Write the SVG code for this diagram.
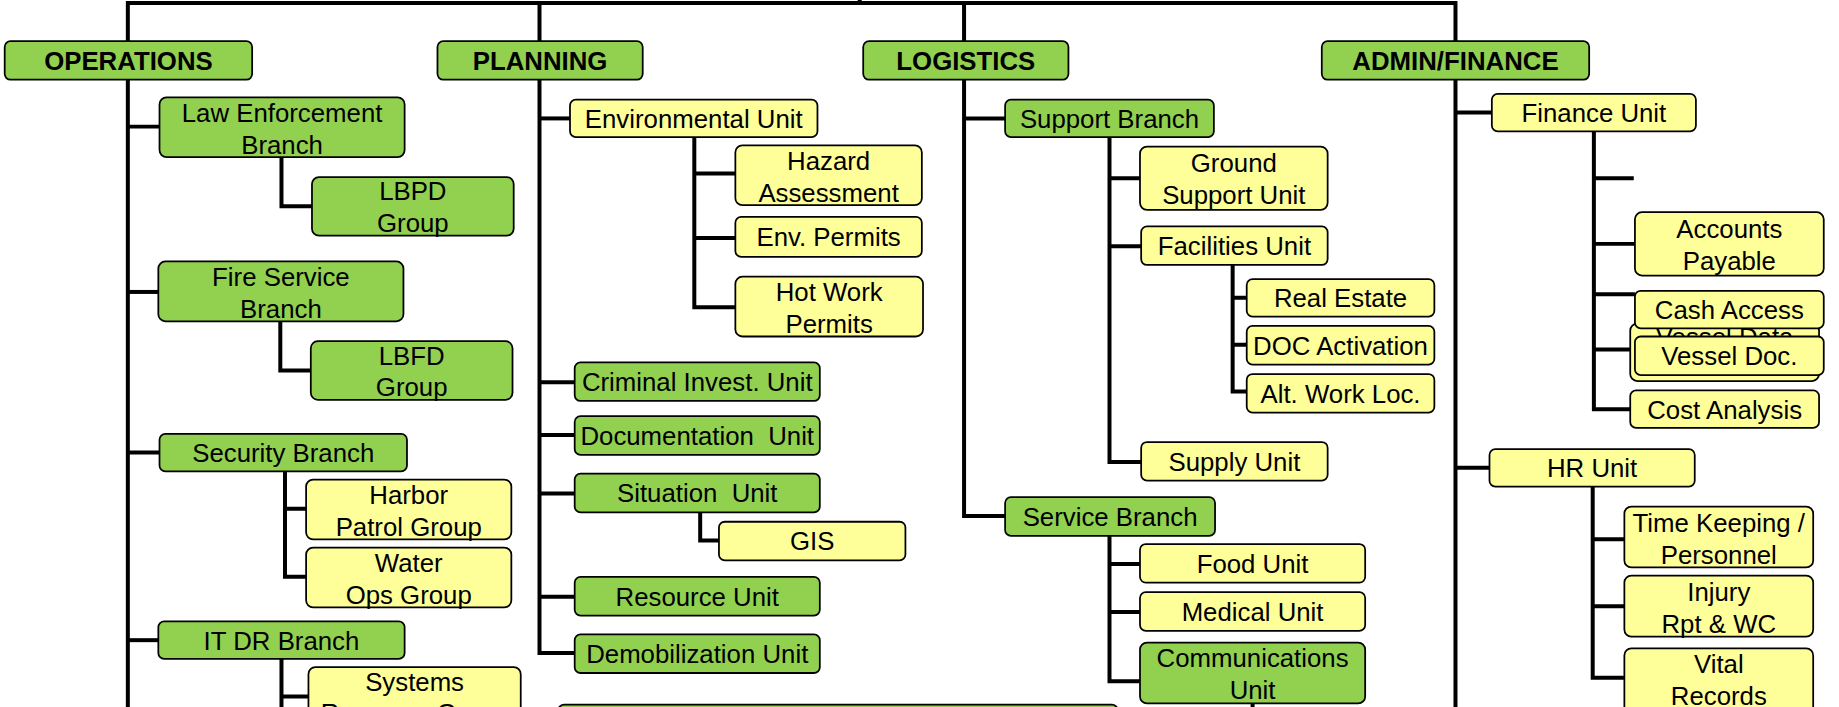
<svg xmlns="http://www.w3.org/2000/svg" width="1839" height="707" viewBox="0 0 1839 707">
  <style>
    .g { fill: #92D050; stroke: #000; stroke-width: 1.5; }
    .y { fill: #FFFF99; stroke: #000; stroke-width: 1.5; }
    .t { font-family: "Liberation Sans", Arial, sans-serif; font-size: 22px; text-anchor: middle; fill: #000; }
    .h { font-weight: bold; }
    .c { fill: none; stroke: #000; stroke-width: 3.4; stroke-linejoin: miter; stroke-linecap: butt; }
  </style>
  <rect x="0" y="0" width="1839" height="707" fill="#fff"/>
  <!-- layout drawn on a 1568 x 603 grid, scaled up to the page -->
  <g transform="scale(1.17283 1.17247)">
    <g id="connectors" class="c">
      <!-- top bar and section trunks -->
      <path d="M109,605 V2.5 H1241 V605"/>
      <path d="M733,0 V4"/>
      <path d="M460,2.5 V557 H490"/>
      <path d="M822,2.5 V440 H857"/>
      <!-- operations -->
      <path d="M109,108 H136"/>
      <path d="M240,134 V176 H266"/>
      <path d="M109,249 H135"/>
      <path d="M239,274 V316 H265"/>
      <path d="M109,386 H136"/>
      <path d="M243,402 V492 H261 M243,434 H261"/>
      <path d="M109,546 H135"/>
      <path d="M240,562 V605 M240,594 H263"/>
      <!-- planning -->
      <path d="M460,101 H486"/>
      <path d="M592,117 V262 H627 M592,148 H627 M592,203 H627"/>
      <path d="M460,326 H490 M460,371 H490 M460,421 H490 M460,509 H490"/>
      <path d="M597,437 V461 H613"/>
      <!-- logistics -->
      <path d="M822,101 H857"/>
      <path d="M946,117 V394 H973 M946,152 H972 M946,210 H973"/>
      <path d="M1051,226 V334 H1063 M1051,254 H1063 M1051,294 H1063"/>
      <path d="M946,457 V581 H972 M946,481 H972 M946,522 H972"/>
      <path d="M1068,600 V605"/>
      <!-- admin / finance -->
      <path d="M1241,96 H1272"/>
      <path d="M1359,112 V349 H1390 M1359,152 H1393 M1359,208 H1394 M1359,251 H1394 M1359,298 H1390"/>
      <path d="M1241,399 H1270"/>
      <path d="M1358,415 V578 H1385 M1358,460 H1385 M1358,517 H1385"/>
    </g>

    <!-- section headers -->
    <g id="operations"><rect class="g" x="4" y="35" width="211" height="33" rx="5"/><text class="t h" x="109.5" y="59.5">OPERATIONS</text></g>
    <g id="planning"><rect class="g" x="373" y="35" width="175" height="33" rx="5"/><text class="t h" x="460.5" y="59.5">PLANNING</text></g>
    <g id="logistics"><rect class="g" x="736" y="35" width="175" height="33" rx="5"/><text class="t h" x="823.5" y="59.5">LOGISTICS</text></g>
    <g id="admin-finance"><rect class="g" x="1127" y="35" width="228" height="33" rx="5"/><text class="t h" x="1241" y="59.5">ADMIN/FINANCE</text></g>

    <!-- operations section -->
    <g id="ops-law"><rect class="g" x="136" y="83" width="209" height="51" rx="6"/><text class="t" x="240.5" y="104">Law Enforcement</text><text class="t" x="240.5" y="131">Branch</text></g>
    <g id="ops-lbpd"><rect class="g" x="266" y="151" width="172" height="50" rx="6"/><text class="t" x="352" y="171">LBPD</text><text class="t" x="352" y="198">Group</text></g>
    <g id="ops-fire"><rect class="g" x="135" y="223" width="209" height="51" rx="6"/><text class="t" x="239.5" y="244">Fire Service</text><text class="t" x="239.5" y="271">Branch</text></g>
    <g id="ops-lbfd"><rect class="g" x="265" y="291" width="172" height="50" rx="6"/><text class="t" x="351" y="311">LBFD</text><text class="t" x="351" y="338">Group</text></g>
    <g id="ops-security"><rect class="g" x="136" y="370" width="211" height="32" rx="5"/><text class="t" x="241.5" y="394">Security Branch</text></g>
    <g id="ops-harbor"><rect class="y" x="261" y="409" width="175" height="51" rx="6"/><text class="t" x="348.5" y="430">Harbor</text><text class="t" x="348.5" y="457">Patrol Group</text></g>
    <g id="ops-water"><rect class="y" x="261" y="467" width="175" height="51" rx="6"/><text class="t" x="348.5" y="488">Water</text><text class="t" x="348.5" y="515">Ops Group</text></g>
    <g id="ops-itdr"><rect class="g" x="135" y="530" width="210" height="32" rx="5"/><text class="t" x="240" y="554">IT DR Branch</text></g>
    <g id="ops-systems"><rect class="y" x="263" y="569" width="181" height="60" rx="6"/><text class="t" x="353.5" y="589">Systems</text><text class="t" x="353.5" y="616">Recovery Group</text></g>

    <!-- planning section -->
    <g id="pl-env"><rect class="y" x="486" y="85" width="211" height="32" rx="5"/><text class="t" x="591.5" y="109">Environmental Unit</text></g>
    <g id="pl-hazard"><rect class="y" x="627" y="124" width="159" height="51" rx="6"/><text class="t" x="706.5" y="145">Hazard</text><text class="t" x="706.5" y="172">Assessment</text></g>
    <g id="pl-envpermits"><rect class="y" x="627" y="185" width="159" height="34" rx="5"/><text class="t" x="706.5" y="210">Env. Permits</text></g>
    <g id="pl-hotwork"><rect class="y" x="627" y="236" width="160" height="51" rx="6"/><text class="t" x="707" y="257">Hot Work</text><text class="t" x="707" y="284">Permits</text></g>
    <g id="pl-criminal"><rect class="g" x="490" y="309" width="209" height="33" rx="5"/><text class="t" x="594.5" y="333.5">Criminal Invest. Unit</text></g>
    <g id="pl-documentation"><rect class="g" x="490" y="355" width="209" height="33" rx="5"/><text class="t" x="594.5" y="379.5" xml:space="preserve">Documentation  Unit</text></g>
    <g id="pl-situation"><rect class="g" x="490" y="404" width="209" height="33" rx="5"/><text class="t" x="594.5" y="428.5" xml:space="preserve">Situation  Unit</text></g>
    <g id="pl-gis"><rect class="y" x="613" y="445" width="159" height="33" rx="5"/><text class="t" x="692.5" y="469.5">GIS</text></g>
    <g id="pl-resource"><rect class="g" x="490" y="492" width="209" height="33" rx="5"/><text class="t" x="594.5" y="516.5">Resource Unit</text></g>
    <g id="pl-demob"><rect class="g" x="490" y="541" width="209" height="33" rx="5"/><text class="t" x="594.5" y="565.5">Demobilization Unit</text></g>
    <g id="pl-lower"><rect class="g" x="476" y="601" width="477" height="40" rx="5"/></g>

    <!-- logistics section -->
    <g id="lg-support"><rect class="g" x="857" y="85" width="178" height="32" rx="5"/><text class="t" x="946" y="109">Support Branch</text></g>
    <g id="lg-ground"><rect class="y" x="972" y="125" width="160" height="54" rx="6"/><text class="t" x="1052" y="147">Ground</text><text class="t" x="1052" y="174">Support Unit</text></g>
    <g id="lg-facilities"><rect class="y" x="973" y="193" width="159" height="33" rx="5"/><text class="t" x="1052.5" y="217.5">Facilities Unit</text></g>
    <g id="lg-realestate"><rect class="y" x="1063" y="238" width="160" height="32" rx="5"/><text class="t" x="1143" y="262">Real Estate</text></g>
    <g id="lg-docact"><rect class="y" x="1063" y="278" width="160" height="33" rx="5"/><text class="t" x="1143" y="302.5">DOC Activation</text></g>
    <g id="lg-altwork"><rect class="y" x="1063" y="319" width="160" height="33" rx="5"/><text class="t" x="1143" y="343.5">Alt. Work Loc.</text></g>
    <g id="lg-supply"><rect class="y" x="973" y="377" width="159" height="33" rx="5"/><text class="t" x="1052.5" y="401.5">Supply Unit</text></g>
    <g id="lg-service"><rect class="g" x="857" y="424" width="179" height="33" rx="5"/><text class="t" x="946.5" y="448.5">Service Branch</text></g>
    <g id="lg-food"><rect class="y" x="972" y="464" width="192" height="33" rx="5"/><text class="t" x="1068" y="488.5">Food Unit</text></g>
    <g id="lg-medical"><rect class="y" x="972" y="505" width="192" height="33" rx="5"/><text class="t" x="1068" y="529.5">Medical Unit</text></g>
    <g id="lg-comms"><rect class="g" x="972" y="548" width="192" height="52" rx="6"/><text class="t" x="1068" y="569">Communications</text><text class="t" x="1068" y="596">Unit</text></g>

    <!-- admin / finance section -->
    <g id="ad-finance"><rect class="y" x="1272" y="80" width="174" height="32" rx="5"/><text class="t" x="1359" y="104">Finance Unit</text></g>
    <g id="ad-payable"><rect class="y" x="1394" y="181" width="161" height="54" rx="6"/><text class="t" x="1474.5" y="203">Accounts</text><text class="t" x="1474.5" y="230">Payable</text></g>
    <g id="ad-vesseldata"><rect class="y" x="1390" y="276" width="161" height="49" rx="6"/><text class="t" x="1470.5" y="295">Vessel Data</text></g>
    <g id="ad-cash"><rect class="y" x="1394" y="248" width="161" height="32" rx="5"/><text class="t" x="1474.5" y="272">Cash Access</text></g>
    <g id="ad-vesseldoc"><rect class="y" x="1394" y="287" width="161" height="33" rx="5"/><text class="t" x="1474.5" y="311.5">Vessel Doc.</text></g>
    <g id="ad-cost"><rect class="y" x="1390" y="333" width="161" height="32" rx="5"/><text class="t" x="1470.5" y="357">Cost Analysis</text></g>
    <g id="ad-hr"><rect class="y" x="1270" y="383" width="175" height="32" rx="5"/><text class="t" x="1357.5" y="407">HR Unit</text></g>
    <g id="ad-timekeeping"><rect class="y" x="1385" y="432" width="161" height="52" rx="6"/><text class="t" x="1465.5" y="454">Time Keeping /</text><text class="t" x="1465.5" y="481">Personnel</text></g>
    <g id="ad-injury"><rect class="y" x="1385" y="491" width="161" height="52" rx="6"/><text class="t" x="1465.5" y="513">Injury</text><text class="t" x="1465.5" y="540">Rpt &amp; WC</text></g>
    <g id="ad-vital"><rect class="y" x="1385" y="553" width="161" height="60" rx="6"/><text class="t" x="1465.5" y="574">Vital</text><text class="t" x="1465.5" y="601">Records</text></g>
  </g>
</svg>
